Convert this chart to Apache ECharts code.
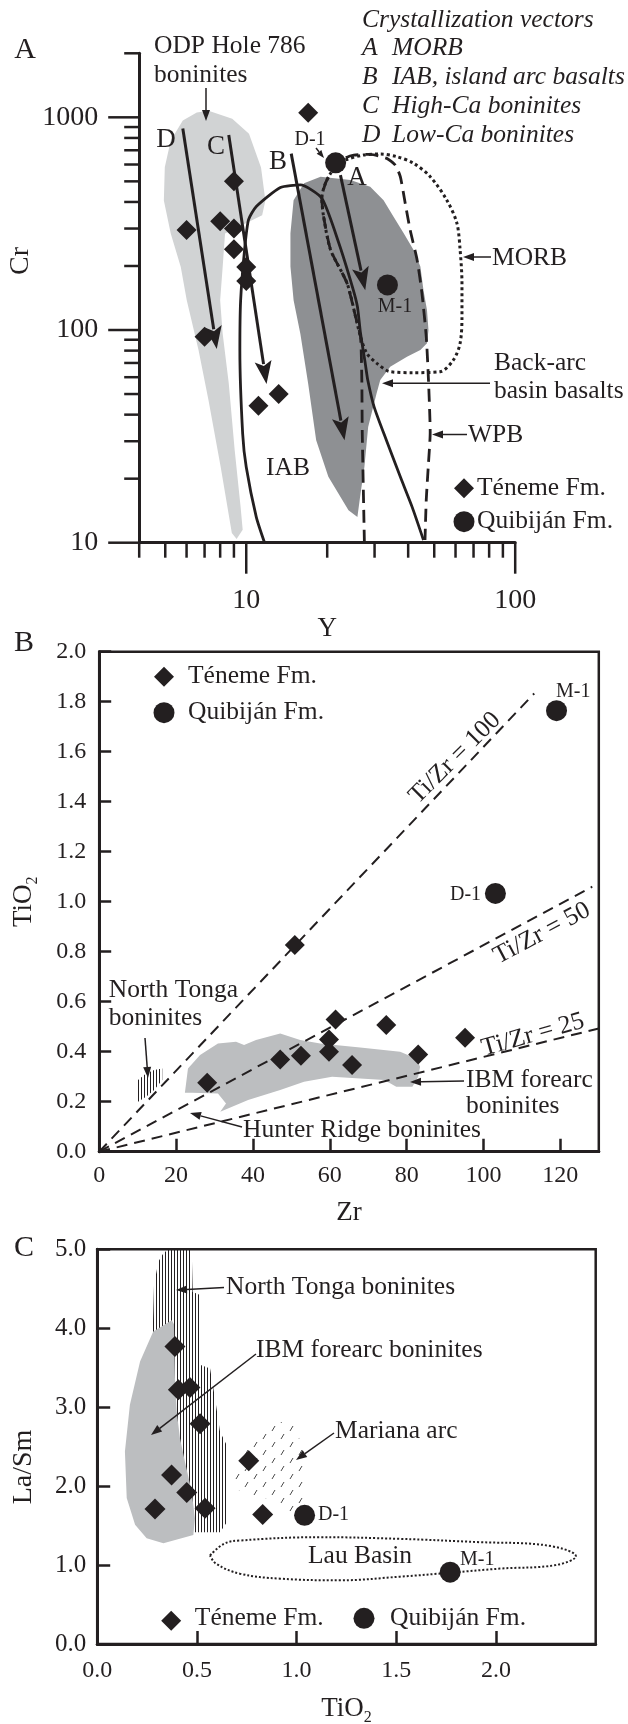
<!DOCTYPE html>
<html><head><meta charset="utf-8">
<script src="https://cdn.jsdelivr.net/npm/echarts@6/dist/echarts.min.js"></script>
<style>html,body{margin:0;padding:0;background:#fff}#c{width:628px;height:1724px}</style>
</head><body><div id="c"></div>
<script>
// ---------------- Panel A : Cr vs Y (log-log) ----------------
const aTenemeY  = [17, 9, 6, 8, 9, 9, 10, 10, 7, 11.1, 13.2];
const aTenemeCr = [1050, 500, 295, 325, 300, 240, 198, 170, 93, 44, 50];
const aQuibY  = [21.5, 33.5];
const aQuibCr = [611, 163];
const odpY  = [7.24, 8.87, 10.24, 11.35, 11.78, 11.46, 8.34, 8.17, 8.0, 8.17, 8.61, 9.06, 9.53, 9.70, 9.21, 8.84, 8.03, 7.24, 6.65, 6.01, 5.71, 5.24, 4.94, 4.98, 5.24, 5.81, 6.55];
const odpCr = [1074, 986, 838, 581, 406, 346, 284, 197, 138, 96.6, 56.2, 27.2, 14.7, 11.5, 10.4, 11.1, 22.8, 46.8, 80.3, 138, 198, 284, 406, 582, 778, 966, 1054];
const backArcY  = [15.0, 16.4, 18.9, 24.4, 28.9, 32.4, 35.3, 38.5, 41.9, 44.4, 45.6, 47.0, 47.6, 47.0, 44.4, 39.6, 34.3, 31.5, 30.5, 28.4, 27.5, 26.6, 25.9, 24.0, 20.2, 18.2, 17.0, 15.9, 15.0, 14.6, 14.6];
const backArcCr = [408, 490, 526, 507, 472, 408, 341, 285, 238, 199, 154, 124, 100, 86.6, 80.5, 74.9, 67.2, 58.2, 50.1, 35.0, 22.7, 17.0, 13.2, 14.2, 20.4, 30.3, 55.8, 95.7, 138, 199, 285];
const iabY  = [11.7, 10.9, 10.0, 9.7, 9.47, 9.53, 9.86, 10.2, 10.9, 13.4, 15.9, 19.1, 22.1, 24.8, 25.9, 26.6, 27.7, 28.3, 29.9, 33.2, 37.4, 41.4, 45.6];
const iabCr = [10, 13.2, 22.7, 32.5, 80, 137, 239, 330, 381, 468, 481, 416, 256, 160, 129, 96.5, 69.7, 58.2, 43.4, 30.3, 20.4, 14.7, 10.3];
const morbY  = [21.5, 23.4, 27.3, 31.5, 36.3, 41.9, 48.3, 55.7, 60.7, 62.4, 63.4, 63.4, 62.4, 58.9, 52.6, 41.9, 34.3, 30.6, 28.1, 26.6, 25.5, 23.7, 20.6, 19.4, 19.1, 19.7, 20.6, 21.5];
const morbCr = [586, 630, 665, 672, 653, 608, 526, 408, 318, 238, 166, 115.5, 86.6, 72.3, 63.7, 63.0, 63.7, 69.7, 77.6, 93, 115.5, 166, 238, 341, 416, 490, 546, 586];
const wpbY  = [27.5, 27.0, 26.9, 26.6, 25.5, 23.7, 20.6, 19.4, 19.1, 19.7, 20.6, 21.5, 23.4, 25.1, 28.9, 33.3, 35.8, 37.4, 39.0, 40.7, 43.2, 45.0, 46.7, 47.6, 48.3, 47.5, 46.7, 46.2];
const wpbCr = [10, 33, 58, 93, 115.5, 166, 238, 341, 416, 490, 546, 600, 645, 664, 670, 641, 597, 526, 394, 295, 213, 149, 93, 58, 33, 22.7, 15.9, 10.3];
const vecFromY  = [5.81, 8.61, 14.7, 22.4];
const vecFromCr = [887, 826, 675, 535];
const vecToY    = [7.77, 11.9, 23.2, 27.7];
const vecToCr   = [81.4, 55.8, 30.3, 154];
const xMinorTicksA = [4, 5, 6, 7, 8, 9, 20, 30, 40, 50, 60, 70, 80, 90];
const xMajorTicksA = [10, 100];
const yMinorTicksA = [20, 30, 40, 50, 60, 70, 80, 90, 200, 300, 400, 500, 600, 700, 800, 900, 2000];
const yMajorTicksA = [10, 100, 1000];

// ---------------- Panel B : TiO2 vs Zr ----------------
const bTenemeZr = [50.9, 28.1, 47.1, 52.5, 59.8, 59.8, 61.5, 65.8, 74.7, 83.0, 95.2];
const bTenemeTi = [0.827, 0.276, 0.369, 0.384, 0.449, 0.400, 0.529, 0.347, 0.507, 0.389, 0.456];
const bQuibZr = [119, 103.1];
const bQuibTi = [1.764, 1.033];
const ratioLabels = ['Ti/Zr = 100', 'Ti/Zr = 50', 'Ti/Zr = 25'];
const ratioEndZr = [113.2, 128.3, 130];
const ratioEndTi = [1.833, 1.06, 0.493];
const ibmBZr = [22.3, 23.1, 26.25, 30.9, 35.6, 37.7, 40.8, 47.1, 52.3, 57.5, 67.9, 78.3, 82.5, 83.5, 83.0, 81.5, 77.3, 74.2, 67.9, 60.6, 53.3, 47.1, 38.75, 31.5, 33.0, 30.9, 24.2];
const ibmBTi = [0.236, 0.333, 0.387, 0.433, 0.44, 0.427, 0.447, 0.473, 0.447, 0.433, 0.417, 0.40, 0.373, 0.34, 0.30, 0.26, 0.26, 0.287, 0.293, 0.30, 0.28, 0.247, 0.207, 0.16, 0.193, 0.233, 0.236];
const tongaBZr = [10.1, 10.1, 12.2, 14.3, 16.4, 16.4, 14.3, 12.2];
const tongaBTi = [0.200, 0.287, 0.313, 0.327, 0.333, 0.287, 0.247, 0.220];

// ---------------- Panel C : La/Sm vs TiO2 ----------------
const cTenemeTi   = [0.39, 0.407, 0.465, 0.516, 0.76, 0.373, 0.449, 0.29, 0.541, 0.83];
const cTenemeLaSm = [3.77, 3.22, 3.25, 2.79, 2.32, 2.14, 1.92, 1.71, 1.72, 1.64];
const cQuibTi   = [1.04, 1.77];
const cQuibLaSm = [1.63, 0.91];
const ibmCTi   = [0.374, 0.281, 0.215, 0.164, 0.139, 0.148, 0.19, 0.248, 0.332, 0.482, 0.49, 0.474, 0.44, 0.415, 0.399, 0.39, 0.387, 0.385];
const ibmCLaSm = [4.10, 3.96, 3.58, 3.03, 2.44, 1.85, 1.51, 1.34, 1.276, 1.38, 1.59, 1.93, 2.31, 2.61, 2.94, 3.37, 3.79, 4.05];
const tongaCTi   = [0.278, 0.285, 0.307, 0.332, 0.357, 0.474, 0.479, 0.516, 0.519, 0.566, 0.591, 0.616, 0.649, 0.652, 0.616, 0.499, 0.278];
const tongaCLaSm = [3.916, 4.55, 4.846, 4.95, 5.0, 5.0, 4.46, 4.42, 3.534, 3.49, 3.11, 2.69, 2.52, 1.55, 1.415, 1.415, 1.415];
const marianaTi   = [0.847, 0.987, 1.047, 1.047, 0.987, 0.897, 0.716, 0.686, 0.736];
const marianaLaSm = [2.80, 2.82, 2.33, 1.91, 1.63, 1.82, 1.91, 2.12, 2.50];
const lauTi   = [0.566, 0.636, 0.716, 1.117, 1.519, 1.920, 2.221, 2.401, 2.30, 2.02, 1.779, 1.519, 1.218, 0.917, 0.716, 0.596, 0.566];
const lauLaSm = [1.122, 1.269, 1.311, 1.353, 1.332, 1.29, 1.26, 1.11, 1.0, 0.955, 0.905, 0.853, 0.807, 0.828, 0.891, 1.017, 1.122];

// ---------------- helpers ----------------
const FONT = '"Liberation Serif", "Times New Roman", serif';
const INK = '#231f20';
const pairs = (xs, ys) => xs.map((x, i) => [x, ys[i]]);

function vHatch(period, color) {
  const c = document.createElement('canvas'); c.width = period; c.height = 8;
  const g = c.getContext('2d'); g.fillStyle = color; g.fillRect(0, 0, 1, 8);
  return { image: c, repeat: 'repeat' };
}
function dashPattern() {
  const c = document.createElement('canvas'); c.width = 18; c.height = 16;
  const g = c.getContext('2d'); g.strokeStyle = '#4a4a4a'; g.lineWidth = 1;
  g.beginPath(); g.moveTo(2, 7); g.lineTo(5, 2); g.moveTo(11, 15); g.lineTo(14, 10); g.stroke();
  return { image: c, repeat: 'repeat' };
}
function polygonSeries(idx, xs, ys, fill, z) {
  return {
    type: 'custom', coordinateSystem: 'cartesian2d', xAxisIndex: idx, yAxisIndex: idx,
    silent: true, z: z, data: pairs(xs, ys),
    renderItem: function (params, api) {
      if (params.dataIndex !== 0) return null;
      const pts = xs.map((x, i) => api.coord([x, ys[i]]));
      return { type: 'polygon', shape: { points: pts }, style: { fill: fill, stroke: null } };
    }
  };
}
function lineSeries(idx, xs, ys, style, smooth, z) {
  return { type: 'line', xAxisIndex: idx, yAxisIndex: idx, data: pairs(xs, ys), showSymbol: false,
    symbol: 'none', smooth: smooth || false, silent: true, clip: false, z: z || 3, lineStyle: style };
}
function scatterSeries(idx, xs, ys, symbol, size, z) {
  return { type: 'scatter', xAxisIndex: idx, yAxisIndex: idx, data: pairs(xs, ys), symbol: symbol,
    symbolSize: size, itemStyle: { color: INK, opacity: 1 }, silent: true, clip: false, z: z || 6 };
}
function tickSeries(data, size, offset) {
  return { type: 'scatter', xAxisIndex: 0, yAxisIndex: 0, data: data, symbol: 'rect', symbolSize: size,
    symbolOffset: offset, itemStyle: { color: INK, opacity: 1 }, silent: true, clip: false, z: 7 };
}
function T(text, x, y, size, o) {
  o = o || {};
  return { type: 'text', x: x, y: y, rotation: o.rot || 0, z: 100, silent: true,
    style: { text: text, fill: INK, font: (o.italic ? 'italic ' : '') + size + 'px ' + FONT,
      align: o.align || 'left', verticalAlign: 'middle' } };
}
function ARW(x1, y1, x2, y2, L, W) {
  L = L || 11; W = W || 8;
  const dx = x2 - x1, dy = y2 - y1, len = Math.hypot(dx, dy), ux = dx / len, uy = dy / len;
  const bx = x2 - ux * L, by = y2 - uy * L, nx = -uy, ny = ux;
  return [
    { type: 'line', z: 100, silent: true, shape: { x1: x1, y1: y1, x2: bx, y2: by }, style: { stroke: INK, lineWidth: 1.5 } },
    { type: 'polygon', z: 100, silent: true, shape: { points: [[x2, y2], [bx + nx * W / 2, by + ny * W / 2], [bx - nx * W / 2, by - ny * W / 2]] }, style: { fill: INK } }
  ];
}
const DIA = (cx, cy) => ({ type: 'polygon', z: 100, silent: true, shape: { points: [[cx, cy - 10], [cx + 10, cy], [cx, cy + 10], [cx - 10, cy]] }, style: { fill: INK } });
const CIR = (cx, cy) => ({ type: 'circle', z: 100, silent: true, shape: { cx: cx, cy: cy, r: 10.5 }, style: { fill: INK } });

const near = (v, list) => list.some(t => Math.abs(v - t) < 1e-6 * t);
const axisTxt = { fontFamily: FONT, color: INK };

// ---------------- option ----------------
const option = {
  animation: false,
  backgroundColor: '#fff',
  grid: [
    { left: 139.2, top: 53.3, width: 376, height: 489.4, containLabel: false, outerBoundsMode: 'none' },
    { left: 99.2, top: 651.7, width: 499.6, height: 500, containLabel: false, outerBoundsMode: 'none', show: true, borderColor: INK, borderWidth: 2.5 },
    { left: 97.2, top: 1249.3, width: 498.5, height: 394.7, containLabel: false, outerBoundsMode: 'none', show: true, borderColor: INK, borderWidth: 2.5 }
  ],
  xAxis: [
    { type: 'log', gridIndex: 0, logBase: 10, min: 4, max: 100,
      axisLine: { show: true, onZero: false, lineStyle: { color: INK, width: 3 } },
      axisTick: { show: false }, splitLine: { show: false },
      axisLabel: Object.assign({ fontSize: 28, margin: 44, formatter: v => near(v, xMajorTicksA) ? String(Math.round(v)) : '' }, axisTxt),
      name: 'Y', nameLocation: 'middle', nameGap: 62, nameTextStyle: Object.assign({ fontSize: 27 }, axisTxt) },
    { type: 'value', gridIndex: 1, min: 0, max: 130, interval: 20,
      axisLine: { show: true, onZero: false, lineStyle: { color: INK, width: 3 } },
      axisTick: { show: true, inside: true, length: 13, lineStyle: { color: INK, width: 2.5 } },
      splitLine: { show: false },
      axisLabel: Object.assign({ fontSize: 24, margin: 12, showMaxLabel: false }, axisTxt),
      name: 'Zr', nameLocation: 'middle', nameGap: 48, nameTextStyle: Object.assign({ fontSize: 27 }, axisTxt) },
    { type: 'value', gridIndex: 2, min: 0, max: 2.5, interval: 0.5,
      axisLine: { show: true, onZero: false, lineStyle: { color: INK, width: 3 } },
      axisTick: { show: true, inside: true, length: 13, lineStyle: { color: INK, width: 2.5 } },
      splitLine: { show: false },
      axisLabel: Object.assign({ fontSize: 24, margin: 15, showMaxLabel: false, formatter: v => v.toFixed(1) }, axisTxt),
      name: 'TiO{s|2}', nameLocation: 'middle', nameGap: 48,
      nameTextStyle: Object.assign({ fontSize: 27, lineHeight: 30, rich: { s: { fontSize: 16, fontFamily: FONT, color: INK, verticalAlign: 'bottom', lineHeight: 34 } } }, axisTxt) }
  ],
  yAxis: [
    { type: 'log', gridIndex: 0, logBase: 10, min: 10, max: 2000,
      axisLine: { show: true, onZero: false, lineStyle: { color: INK, width: 3 } },
      axisTick: { show: false }, splitLine: { show: false },
      axisLabel: Object.assign({ fontSize: 28, margin: 41, formatter: v => near(v, yMajorTicksA) ? String(Math.round(v)) : '' }, axisTxt) },
    { type: 'value', gridIndex: 1, min: 0, max: 2, interval: 0.2,
      axisLine: { show: true, onZero: false, lineStyle: { color: INK, width: 3 } },
      axisTick: { show: true, inside: true, length: 12, lineStyle: { color: INK, width: 2.5 } },
      splitLine: { show: false },
      axisLabel: Object.assign({ fontSize: 24, margin: 13, formatter: v => v.toFixed(1) }, axisTxt),
      name: 'TiO{s|2}', nameLocation: 'middle', nameGap: 58, nameRotate: 90,
      nameTextStyle: Object.assign({ fontSize: 27, lineHeight: 30, rich: { s: { fontSize: 16, fontFamily: FONT, color: INK, verticalAlign: 'bottom', lineHeight: 34 } } }, axisTxt) },
    { type: 'value', gridIndex: 2, min: 0, max: 5, interval: 1,
      axisLine: { show: true, onZero: false, lineStyle: { color: INK, width: 3 } },
      axisTick: { show: true, inside: true, length: 13, lineStyle: { color: INK, width: 2.5 } },
      splitLine: { show: false },
      axisLabel: Object.assign({ fontSize: 25, margin: 11, formatter: v => v.toFixed(1) }, axisTxt) }
  ],
  series: [
    // Panel A
    polygonSeries(0, odpY, odpCr, '#d1d3d4', 1),
    polygonSeries(0, backArcY, backArcCr, '#8e9093', 2),
    lineSeries(0, iabY, iabCr, { color: INK, width: 2.8, type: 'solid' }, 0.2),
    lineSeries(0, wpbY, wpbCr, { color: INK, width: 2.8, type: [13, 7] }, 0.2),
    lineSeries(0, morbY, morbCr, { color: INK, width: 3, type: [3, 3] }, 0.3),
    {
      type: 'custom', coordinateSystem: 'cartesian2d', xAxisIndex: 0, yAxisIndex: 0, silent: true, z: 5,
      data: vecFromY.map((x, i) => [x, vecFromCr[i], vecToY[i], vecToCr[i]]),
      encode: { x: [0, 2], y: [1, 3] },
      renderItem: function (params, api) {
        const p1 = api.coord([api.value(0), api.value(1)]);
        const p2 = api.coord([api.value(2), api.value(3)]);
        const L = 23, W = 17;
        const dx = p2[0] - p1[0], dy = p2[1] - p1[1], len = Math.hypot(dx, dy), ux = dx / len, uy = dy / len;
        const bx = p2[0] - ux * L, by = p2[1] - uy * L, nx = -uy, ny = ux;
        return { type: 'group', children: [
          { type: 'line', shape: { x1: p1[0], y1: p1[1], x2: bx + ux * 3, y2: by + uy * 3 }, style: { stroke: INK, lineWidth: 3 } },
          { type: 'polygon', shape: { points: [p2, [bx + nx * W / 2, by + ny * W / 2], [bx + ux * 5, by + uy * 5], [bx - nx * W / 2, by - ny * W / 2]] }, style: { fill: INK } }
        ] };
      }
    },
    tickSeries(xMinorTicksA.map(v => [v, 10]), [2.5, 15], [0, 7.5]),
    tickSeries(xMajorTicksA.map(v => [v, 10]), [2.5, 31], [0, 15.5]),
    tickSeries(yMinorTicksA.map(v => [4, v]), [15, 2.5], [-7.5, 0]),
    tickSeries(yMajorTicksA.map(v => [4, v]), [31, 2.5], [-15.5, 0]),
    scatterSeries(0, aTenemeY, aTenemeCr, 'diamond', 20),
    scatterSeries(0, aQuibY, aQuibCr, 'circle', 21),
    // Panel B
    polygonSeries(1, ibmBZr, ibmBTi, '#bcbec0', 1),
    polygonSeries(1, tongaBZr, tongaBTi, vHatch(3, '#231f20'), 1),
    ...ratioEndZr.map((z, i) => lineSeries(1, [0, z], [0, ratioEndTi[i]], { color: INK, width: 2, type: [11, 7] }, false, 3)),
    scatterSeries(1, bTenemeZr, bTenemeTi, 'diamond', 20),
    scatterSeries(1, bQuibZr, bQuibTi, 'circle', 21),
    // Panel C
    polygonSeries(2, tongaCTi, tongaCLaSm, vHatch(3, '#231f20'), 1),
    polygonSeries(2, ibmCTi, ibmCLaSm, '#bcbec0', 2),
    polygonSeries(2, marianaTi, marianaLaSm, dashPattern(), 2),
    lineSeries(2, lauTi, lauLaSm, { color: INK, width: 2, type: [2, 2] }, 0.4),
    scatterSeries(2, cTenemeTi, cTenemeLaSm, 'diamond', 21),
    scatterSeries(2, cQuibTi, cQuibLaSm, 'circle', 21)
  ],
  graphic: { elements: [
    // Panel A
    T('A', 25, 50, 30, { align: 'center' }),
    T('Cr', 21, 261, 28, { align: 'center', rot: Math.PI / 2 }),
    T('ODP Hole 786', 154, 46.7, 25.5),
    T('boninites', 154, 75, 25.5),
    ...ARW(206, 88, 206, 121),
    T('Crystallization vectors', 362, 20, 25.5, { italic: true }),
    T('A', 362, 48, 25.5, { italic: true }), T('MORB', 392, 48, 25.5, { italic: true }),
    T('B', 362, 77, 25.5, { italic: true }), T('IAB, island arc basalts', 392, 77, 25.5, { italic: true }),
    T('C', 362, 106, 25.5, { italic: true }), T('High-Ca boninites', 392, 106, 25.5, { italic: true }),
    T('D', 362, 135, 25.5, { italic: true }), T('Low-Ca boninites', 392, 135, 25.5, { italic: true }),
    T('D', 166, 140, 27, { align: 'center' }),
    T('C', 216, 146.7, 27, { align: 'center' }),
    T('B', 278, 161.7, 27, { align: 'center' }),
    T('A', 357, 178.3, 27, { align: 'center' }),
    T('D-1', 310, 139.3, 20, { align: 'center' }),
    ...ARW(316, 148, 324, 158, 8, 6),
    T('M-1', 395, 306.7, 20, { align: 'center' }),
    T('MORB', 492, 258.3, 25.5),
    ...ARW(491, 257, 463, 257),
    T('Back-arc', 494, 363.3, 25.5),
    T('basin basalts', 494, 391.7, 25.5),
    ...ARW(490, 383.3, 382, 383.3),
    T('WPB', 468, 435, 25.5),
    ...ARW(467, 434.5, 432, 434.5),
    T('IAB', 288, 468.3, 25.5, { align: 'center' }),
    DIA(464, 488.3), T('Téneme Fm.', 477, 488.3, 25.5),
    CIR(464, 521.7), T('Quibiján Fm.', 477, 521.7, 25.5),
    // Panel B
    T('B', 24, 643.3, 30, { align: 'center' }),
    DIA(164, 676.7), T('Téneme Fm.', 188, 676.7, 25.5),
    CIR(164, 712.7), T('Quibiján Fm.', 188, 712.7, 25.5),
    T('M-1', 556, 691.7, 20),
    T('D-1', 450, 895, 20),
    T(ratioLabels[0], 455, 758, 25.5, { align: 'center', rot: Math.PI * 45 / 180 }),
    T(ratioLabels[1], 542, 933.3, 25.5, { align: 'center', rot: Math.PI * 28 / 180 }),
    T(ratioLabels[2], 533, 1035, 25.5, { align: 'center', rot: Math.PI * 15.8 / 180 }),
    T('North Tonga', 108.8, 990, 25.5),
    T('boninites', 108.8, 1018.3, 25.5),
    ...ARW(145, 1038, 148, 1078),
    T('IBM forearc', 466, 1080, 25.5),
    T('boninites', 466, 1106.7, 25.5),
    ...ARW(464, 1081, 410, 1082),
    T('Hunter Ridge boninites', 243, 1130, 25.5),
    ...ARW(242, 1127, 190, 1113),
    // Panel C
    T('C', 24, 1248.3, 30, { align: 'center' }),
    T('La/Sm', 24, 1467, 28, { align: 'center', rot: Math.PI / 2 }),
    T('North Tonga boninites', 226, 1287.3, 25.5),
    ...ARW(224, 1287.5, 176, 1290),
    T('IBM forearc boninites', 256, 1350, 25.5),
    ...ARW(256, 1354, 151, 1435),
    T('Mariana arc', 335, 1431.7, 25.5),
    ...ARW(334, 1433, 296, 1460),
    T('D-1', 318, 1515, 20),
    T('Lau Basin', 308, 1556.7, 25.5),
    T('M-1', 460, 1560, 20),
    DIA(171.2, 1620.7), T('Téneme Fm.', 194.8, 1618.3, 25.5),
    CIR(364, 1618.3), T('Quibiján Fm.', 390, 1618.3, 25.5)
  ] }
};

const chart = echarts.init(document.getElementById('c'), null, { renderer: 'canvas', width: 628, height: 1724 });
chart.setOption(option);
</script>
</body></html>
